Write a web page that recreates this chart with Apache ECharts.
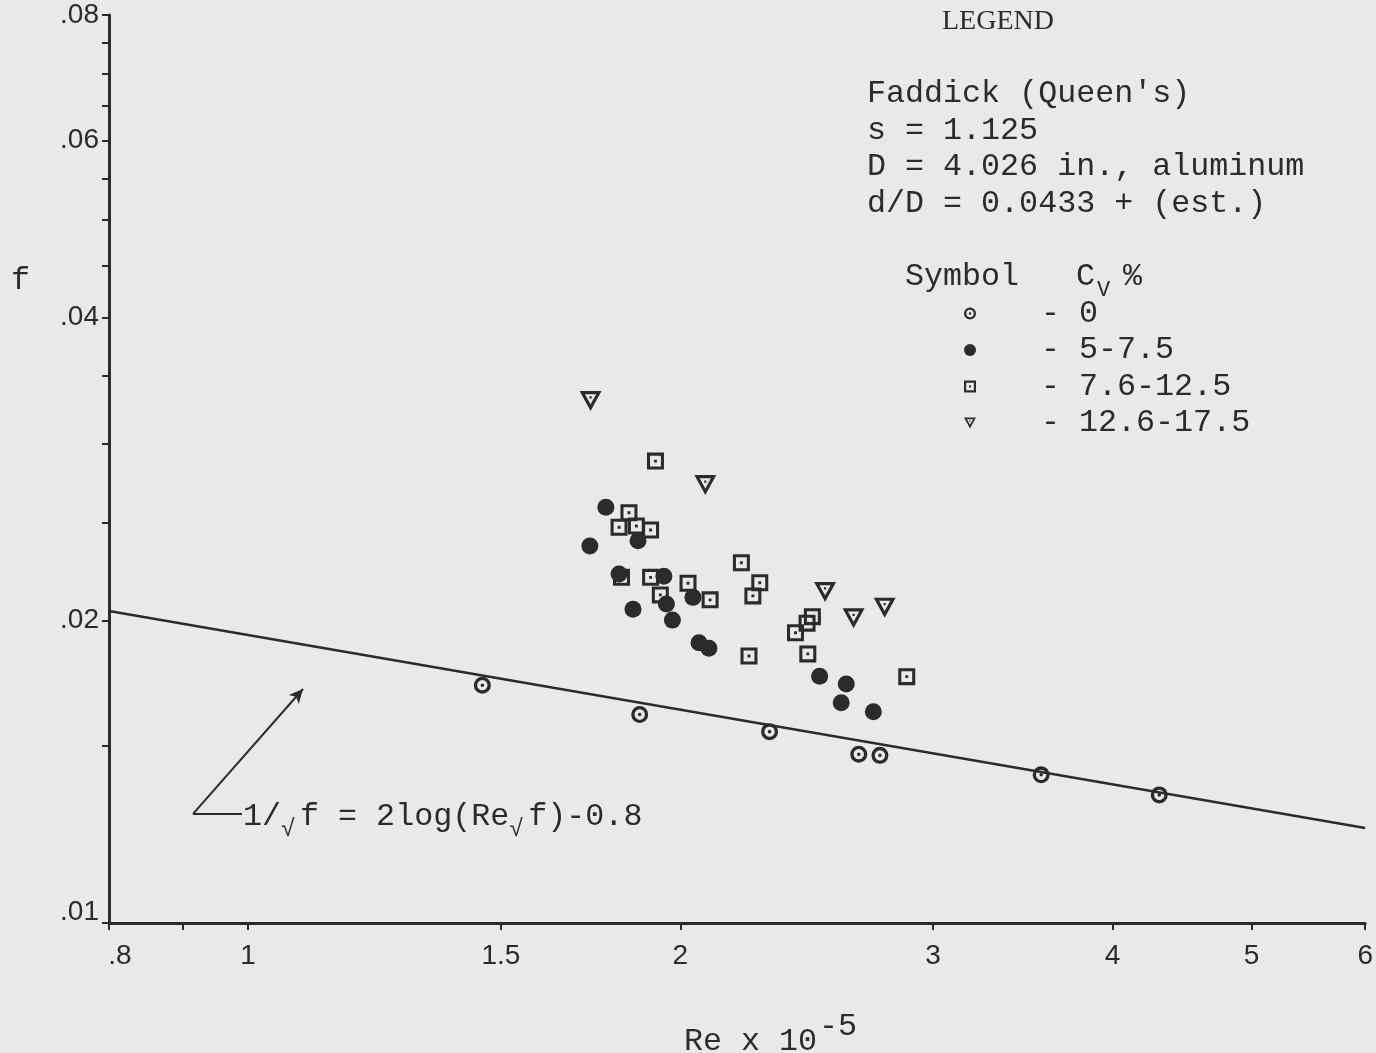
<!DOCTYPE html>
<html>
<head>
<meta charset="utf-8">
<script src="https://cdn.jsdelivr.net/npm/echarts@6/dist/echarts.min.js"></script>
<style>
  html, body { margin: 0; padding: 0; background: #e9e9e9; }
  #chart { width: 1376px; height: 1053px; }
</style>
</head>
<body>
<div id="chart"></div>
<script>
// ---------------- data ----------------
const xTickValues = [0.8, 0.9, 1, 1.5, 2, 3, 4, 5, 6];
const xLabelValues = [0.8, 1, 1.5, 2, 3, 4, 5, 6];
const xLabelText = ['.8', '1', '1.5', '2', '3', '4', '5', '6'];
const yTickValues = [0.01, 0.015, 0.02, 0.025, 0.03, 0.035, 0.04, 0.045, 0.05, 0.055, 0.06, 0.065, 0.07, 0.075, 0.08];
const yLabelValues = [0.01, 0.02, 0.04, 0.06, 0.08];
const yLabelText = ['.01', '.02', '.04', '.06', '.08'];

const seriesNames = ['0', '5-7.5', '7.6-12.5', '12.6-17.5'];

// Cv = 0 %
const cv0Re = [1.456, 1.874, 2.308, 2.663, 2.755, 3.568, 4.312];
const cv0F  = [0.01724, 0.01612, 0.01550, 0.01472, 0.01468, 0.01404, 0.01341];
// Cv = 5-7.5 %
const cv5Re = [1.775, 1.730, 1.813, 1.869, 1.854, 1.948, 1.956, 1.975, 2.041, 2.061, 2.094, 2.501, 2.610, 2.589, 2.726];
const cv5F  = [0.02591, 0.02371, 0.02224, 0.02400, 0.02051, 0.02213, 0.02076, 0.02001, 0.02108, 0.01900, 0.01876, 0.01760, 0.01729, 0.01656, 0.01622];
// Cv = 7.6-12.5 %
const cv76Re = [1.922, 1.842, 1.813, 1.864, 1.907, 1.820, 1.907, 1.937, 2.025, 2.098, 2.206, 2.272, 2.247, 2.472, 2.451, 2.406, 2.233, 2.454, 2.876];
const cv76F  = [0.02880, 0.02559, 0.02475, 0.02482, 0.02460, 0.02207, 0.02207, 0.02120, 0.02177, 0.02096, 0.02282, 0.02180, 0.02115, 0.02017, 0.01987, 0.01944, 0.01843, 0.01852, 0.01758];
// Cv = 12.6-17.5 %
const cv126Re = [1.732, 2.082, 2.523, 2.641, 2.776];
const cv126F  = [0.03305, 0.02726, 0.02134, 0.02009, 0.02059];

// smooth-pipe line 1/sqrt(f) = 2log(Re sqrt(f)) - 0.8 (end points)
const lineRe = [0.8, 6];
const lineF  = [0.02043, 0.01243];

// annotation arrow (data coordinates)
const arrowTail    = [0.9154, 0.01284];
const arrowHead    = [1.092, 0.01709];
const arrowFootEnd = [0.9902, 0.01284];

// ---------------- styles ----------------
const INK = '#2b2b2b';
const BG = '#e9e9e9';
const MONO = '"Liberation Mono", "Courier New", monospace';
const SANS = '"Liberation Sans", Arial, sans-serif';
const SERIF = '"Liberation Serif", "Times New Roman", serif';
const FS = 31.7;
const PITCH = FS * 0.6;

const SYM_RING = 'path://M10,0 A10,10 0 1,1 10,20 A10,10 0 1,1 10,0 Z M10,3.9 A6.1,6.1 0 1,0 10,16.1 A6.1,6.1 0 1,0 10,3.9 Z M10,7.9 A2.1,2.1 0 1,1 10,12.1 A2.1,2.1 0 1,1 10,7.9 Z';
const SYM_SQUARE = 'path://M0,0 L20,0 L20,20 L0,20 Z M3.6,3.6 L3.6,16.4 L16.4,16.4 L16.4,3.6 Z M8.3,8.3 L11.7,8.3 L11.7,11.7 L8.3,11.7 Z';
const SYM_TRI = 'path://M0,0 L20,0 L10,18 Z M4.9,2.9 L10,12.0 L15.1,2.9 Z M9,4.8 L11,4.8 L11,6.8 L9,6.8 Z';

const zip = (a, b) => a.map((v, i) => [v, b[i]]);
function pickLabel(v, vals, texts) {
  for (let i = 0; i < vals.length; i++) {
    if (Math.abs(v - vals[i]) < vals[i] * 1e-6) return texts[i];
  }
  return '';
}

function txt(x, y, text, size, family, extra) {
  return {
    type: 'text', x: x, y: y, silent: true,
    style: Object.assign({
      text: text, fontSize: size, fontFamily: family, fill: INK,
      align: 'left', verticalAlign: 'middle'
    }, extra || {})
  };
}

const chart = echarts.init(document.getElementById('chart'), null, { renderer: 'canvas' });

const graphics = [
  txt(942, 22, 'LEGEND', 28, SERIF),
  txt(867, 94, "Faddick (Queen's)", FS, MONO),
  txt(867, 131, 's = 1.125', FS, MONO),
  txt(867, 167, 'D = 4.026 in., aluminum', FS, MONO),
  txt(867, 204, 'd/D = 0.0433 + (est.)', FS, MONO),
  txt(905, 277, 'Symbol', FS, MONO),
  txt(1076, 277, 'C', FS, MONO),
  txt(1097, 290, 'V', 22, MONO),
  txt(1123, 277, '%', FS, MONO),
  // axis titles
  txt(11, 281, 'f', FS, MONO),
  txt(684, 1042, 'Re x 10', FS, MONO),
  txt(819, 1027, '-5', FS, MONO),
  // equation
  txt(243, 817, '1/', FS, MONO),
  txt(243 + 2 * PITCH, 830, '\u221A', 24, MONO),
  txt(243 + 3 * PITCH, 817, 'f = 2log(Re', FS, MONO),
  txt(243 + 14 * PITCH, 830, '\u221A', 24, MONO),
  txt(243 + 15 * PITCH, 817, 'f)-0.8', FS, MONO)
];

const option = {
  backgroundColor: BG,
  animation: false,
  grid: { left: 109, right: 10, top: 15, bottom: 130, containLabel: false },
  xAxis: {
    type: 'log', logBase: 10, min: 0.8, max: 6,
    axisLine: { show: true, lineStyle: { color: INK, width: 3 } },
    axisTick: { show: true, customValues: xTickValues, length: 7, inside: false, lineStyle: { color: INK, width: 2 } },
    axisLabel: {
      show: true, customValues: xLabelValues, margin: 19,
      fontSize: 28, fontFamily: SANS, color: INK,
      formatter: v => {
        const t = pickLabel(v, xLabelValues, xLabelText);
        return t === '.8' ? '{sh|' + t + '}' : t;
      },
      rich: { sh: { fontSize: 28, fontFamily: SANS, color: INK, padding: [0, 0, 0, 22] } }
    },
    splitLine: { show: false }, minorTick: { show: false }
  },
  yAxis: {
    type: 'log', logBase: 10, min: 0.01, max: 0.08,
    axisLine: { show: true, lineStyle: { color: INK, width: 3 } },
    axisTick: { show: true, customValues: yTickValues, length: 7, inside: false, lineStyle: { color: INK, width: 2 } },
    axisLabel: {
      show: true, customValues: yLabelValues, margin: 10,
      fontSize: 28, fontFamily: SANS, color: INK,
      formatter: v => {
        const t = pickLabel(v, yLabelValues, yLabelText);
        return t === '.01' ? '{up|' + t + '}' : t;
      },
      rich: { up: { fontSize: 28, fontFamily: SANS, color: INK, padding: [0, 0, 22, 0] } }
    },
    splitLine: { show: false }, minorTick: { show: false }
  },
  legend: {
    data: seriesNames, orient: 'vertical', left: 959, top: 292.5,
    itemWidth: 12, itemHeight: 12, itemGap: 4.5, selectedMode: false,
    formatter: n => '- ' + n,
    textStyle: { fontFamily: MONO, fontSize: FS, color: INK, lineHeight: 30, padding: [0, 0, 0, 60] }
  },
  graphic: graphics,
  series: [
    {
      name: 'fit', type: 'line', data: zip(lineRe, lineF), symbol: 'none', silent: true, z: 1,
      lineStyle: { color: INK, width: 2.5 },
      markLine: {
        silent: true, symbol: ['none', 'none'], animation: false,
        label: { show: false },
        lineStyle: { color: INK, width: 2, type: 'solid' },
        data: [
          [{ coord: arrowTail }, { coord: arrowHead, symbol: 'arrow', symbolSize: [10, 14] }],
          [{ coord: arrowTail }, { coord: arrowFootEnd }]
        ]
      }
    },
    {
      name: seriesNames[0], type: 'scatter', data: zip(cv0Re, cv0F), z: 3,
      symbol: SYM_RING, symbolSize: 17, itemStyle: { color: INK, opacity: 1 }
    },
    {
      name: seriesNames[2], type: 'scatter', data: zip(cv76Re, cv76F), z: 3,
      symbol: SYM_SQUARE, symbolSize: 17, itemStyle: { color: INK, opacity: 1 }
    },
    {
      name: seriesNames[3], type: 'scatter', data: zip(cv126Re, cv126F), z: 3,
      symbol: SYM_TRI, symbolSize: [22, 20], itemStyle: { color: INK, opacity: 1 }
    },
    {
      name: seriesNames[1], type: 'scatter', data: zip(cv5Re, cv5F), z: 4,
      symbol: 'circle', symbolSize: 17, itemStyle: { color: INK, opacity: 1 }
    }
  ]
};
chart.setOption(option);
</script>
</body>
</html>
